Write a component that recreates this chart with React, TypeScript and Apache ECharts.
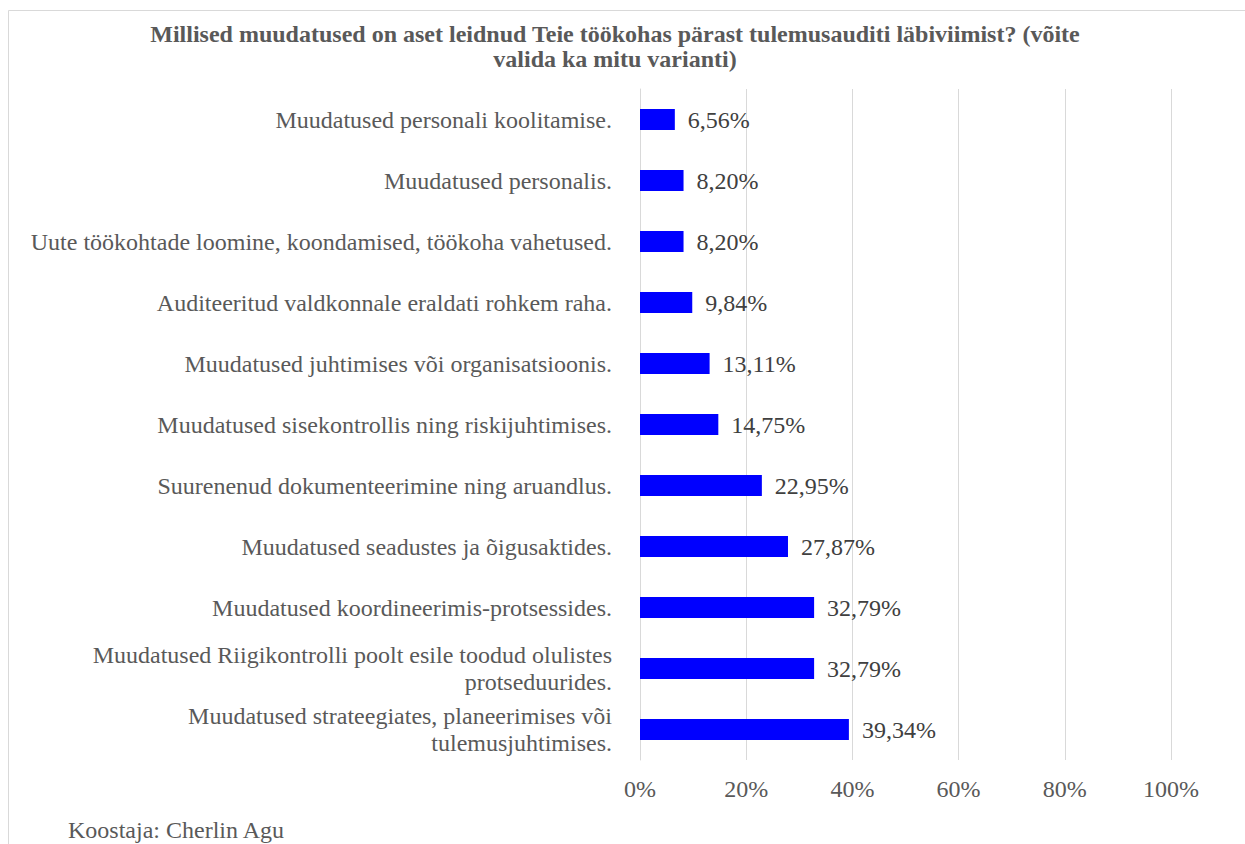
import React, { useEffect, useRef } from "react";
import * as echarts from "echarts";

const titleLines = [
  "Millised muudatused on aset leidnud Teie töökohas pärast tulemusauditi läbiviimist? (võite",
  "valida ka mitu varianti)",
];
const categories = [
  "Muudatused personali koolitamise.",
  "Muudatused personalis.",
  "Uute töökohtade loomine, koondamised, töökoha vahetused.",
  "Auditeeritud valdkonnale eraldati rohkem raha.",
  "Muudatused juhtimises või organisatsioonis.",
  "Muudatused sisekontrollis ning riskijuhtimises.",
  "Suurenenud dokumenteerimine ning aruandlus.",
  "Muudatused seadustes ja õigusaktides.",
  "Muudatused koordineerimis-protsessides.",
  "Muudatused Riigikontrolli poolt esile toodud olulistes\nprotseduurides.",
  "Muudatused strateegiates, planeerimises või\ntulemusjuhtimises.",
];
const values = [6.56, 8.2, 8.2, 9.84, 13.11, 14.75, 22.95, 27.87, 32.79, 32.79, 39.34];
const footer = "Koostaja: Cherlin Agu";

const FONT = "Liberation Serif";

export default function App() {
  const ref = useRef<HTMLDivElement>(null);
  useEffect(() => {
    if (!ref.current) return;
    const chart = echarts.init(ref.current, undefined, { renderer: "svg" });
    chart.setOption({
      animation: false,
      backgroundColor: "#ffffff",
      textStyle: { fontFamily: FONT },
      title: {
        text: titleLines.join("\n"),
        left: 610,
        top: 16,
        textAlign: "center",
        textStyle: {
          fontFamily: FONT,
          fontWeight: "bold",
          fontSize: 24,
          lineHeight: 25,
          color: "#595959",
        },
      },
      graphic: [
        {
          type: "rect",
          shape: { x: 8.5, y: 10.5, width: 1400, height: 1000 },
          style: { fill: "none", stroke: "#d9d9d9", lineWidth: 1 },
          silent: true,
          z: -1,
        },
        {
          type: "text",
          x: 68,
          y: 830,
          style: {
            text: footer,
            fontFamily: FONT,
            fontSize: 24,
            fill: "#595959",
            verticalAlign: "middle",
          },
        },
      ],
      grid: { left: 640, right: 74, top: 89, bottom: 84, containLabel: false },
      xAxis: {
        type: "value",
        min: 0,
        max: 100,
        interval: 20,
        axisLine: { show: false },
        axisTick: { show: false },
        splitLine: { lineStyle: { color: "#d9d9d9", width: 1 } },
        axisLabel: {
          formatter: "{value}%",
          fontFamily: FONT,
          fontSize: 24,
          color: "#595959",
          margin: 17,
        },
      },
      yAxis: {
        type: "category",
        data: categories,
        inverse: true,
        axisTick: { show: false },
        axisLine: { show: true, lineStyle: { color: "#d9d9d9", width: 1 } },
        axisLabel: {
          fontFamily: FONT,
          fontSize: 24,
          lineHeight: 27,
          color: "#595959",
          margin: 28,
          align: "right",
        },
      },
      series: [
        {
          type: "bar",
          data: values,
          barWidth: 21,
          itemStyle: { color: "#0000ff" },
          label: {
            show: true,
            position: "right",
            distance: 13,
            formatter: (p: any) => p.value.toFixed(2).replace(".", ",") + "%",
            fontFamily: FONT,
            fontSize: 24,
            color: "#404040",
          },
        },
      ],
    });
    return () => chart.dispose();
  }, []);
  return (
    <div
      ref={ref}
      style={{ position: "absolute", left: 0, top: 0, width: 1245, height: 844 }}
    />
  );
}
